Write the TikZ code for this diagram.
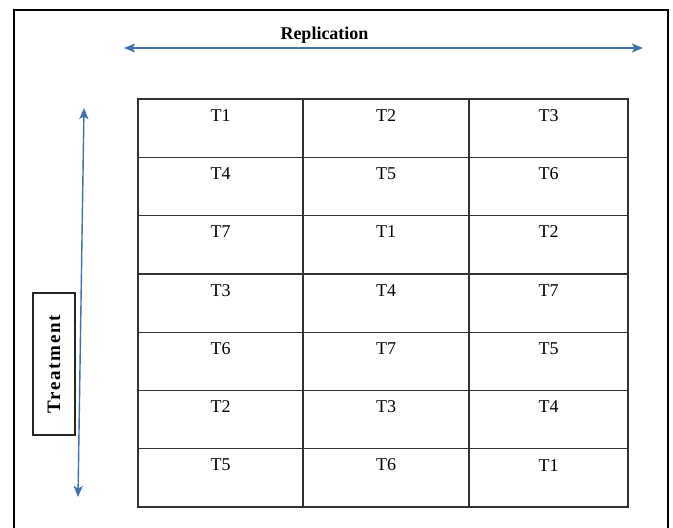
\documentclass[tikz,border=0pt]{standalone}
\usepackage{fontspec}
\setmainfont{Liberation Serif}
\usetikzlibrary{arrows.meta}
\definecolor{arrowblue}{RGB}{62,114,178}
\definecolor{gridline}{RGB}{50,50,50}
\begin{document}
\begin{tikzpicture}[x=1pt,y=-1pt,
  cell/.style={draw=gridline, line width=1.3pt, inner sep=0pt,
    minimum height=58.29pt},
  celltext/.style={inner sep=0pt, font=\fontsize{18}{20}\selectfont},
  axis/.style={draw=arrowblue, line width=1.4pt,
    {Stealth[length=11pt,width=9pt,inset=2.5pt]}-{Stealth[length=11pt,width=9pt,inset=2.5pt]}},
  tagbox/.style={draw=black!85, line width=1.2pt, inner sep=0pt}]
\useasboundingbox (0,0) rectangle (673,528);

% open frame round the whole layout
\draw[line width=2pt] (14,529) -- (14,10) -- (668,10) -- (668,529);

% replication axis
\coordinate (repL) at (124,48);
\coordinate (repR) at (643,48);
\draw[axis] (repL) -- (repR);
\node[anchor=base, inner sep=0pt, font=\bfseries\fontsize{18}{20}\selectfont]
  (replab) at (324.5,39) {Replication};

% treatment axis
\coordinate (trtT) at (84,108);
\coordinate (trtB) at (78,497);
\draw[axis] (trtT) -- (trtB);
\node[tagbox, minimum width=42pt, minimum height=142pt] (trtbox) at (54,364) {};
\node[rotate=90, inner sep=0pt,
  font=\bfseries\fontsize{19}{21}\selectfont\addfontfeature{LetterSpace=9}]
  (trtlab) at (trtbox.center) {Treatment};

% layout grid: 7 rows x 3 columns
\foreach \r/\a/\b/\c in {1/T1/T2/T3, 2/T4/T5/T6, 3/T7/T1/T2, 4/T3/T4/T7,
                         5/T6/T7/T5, 6/T2/T3/T4, 7/T5/T6/T1} {
  \pgfmathsetmacro\yc{99+58.29*(\r-0.5)}
  \node[cell, minimum width=165pt] (c\r-1) at (220.5,\yc) {};
  \node[cell, minimum width=166pt] (c\r-2) at (386,\yc) {};
  \node[cell, minimum width=159pt] (c\r-3) at (548.5,\yc) {};
  \node[celltext] (t\r-1) at ([yshift=-17pt]c\r-1.north) {\a};
  \node[celltext] (t\r-2) at ([yshift=-17pt]c\r-2.north) {\b};
  \node[celltext] (t\r-3) at ([yshift=-17pt]c\r-3.north) {\c};
}
\end{tikzpicture}
\end{document}
